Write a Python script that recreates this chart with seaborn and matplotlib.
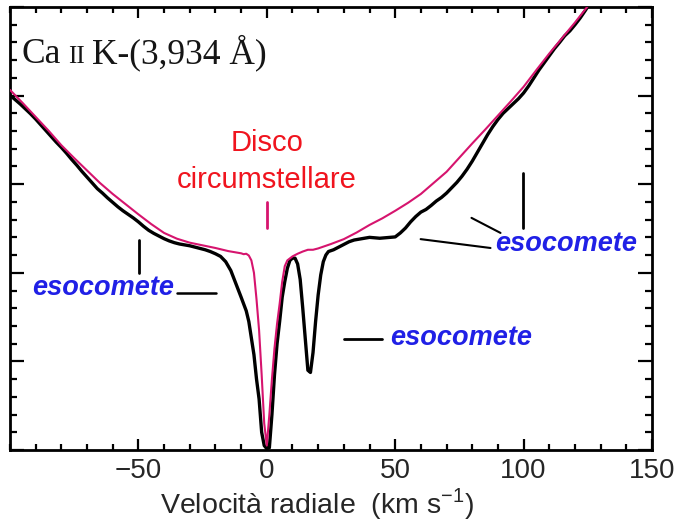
import numpy as np
import pandas as pd
import matplotlib
matplotlib.use("Agg")
import matplotlib.pyplot as plt
from matplotlib.ticker import MultipleLocator
from matplotlib.transforms import offset_copy
import seaborn as sns

# Observed Ca II K profile (black) and circumstellar-disc reference profile (magenta)
v_obs = [-100, -98, -96, -94, -92, -90, -88, -86, -84, -82, -80, -78, -76, -74, -72,
         -70, -68, -66, -64, -62, -60, -58, -56, -54, -52, -50, -48, -46, -44, -42,
         -40, -38, -36, -34, -32, -30, -28, -26, -24, -22, -20, -18, -16, -14, -12,
         -10, -8, -7, -6, -5, -4, -3, -2, -1, 0, 1, 2, 3, 4, 5, 6, 7, 8, 9, 10, 11,
         12, 13, 14, 15, 16, 17, 18, 19, 20, 21, 22, 23, 24, 26, 28, 30, 32, 34, 36,
         38, 40, 42, 44, 46, 48, 50, 52, 54, 56, 58, 60, 62, 64, 66, 68, 70, 72, 74,
         76, 78, 80, 82, 84, 86, 88, 90, 92, 94, 96, 98, 100, 102, 104, 106, 108, 110,
         112, 114, 116, 118, 120, 122, 124, 126, 128]
f_obs = [0.801, 0.791, 0.781, 0.770, 0.759, 0.747, 0.734, 0.721, 0.708, 0.695, 0.683,
         0.670, 0.656, 0.643, 0.629, 0.616, 0.603, 0.590, 0.580, 0.569, 0.559, 0.549,
         0.540, 0.532, 0.524, 0.515, 0.505, 0.496, 0.489, 0.483, 0.477, 0.472, 0.468,
         0.465, 0.463, 0.461, 0.458, 0.455, 0.452, 0.448, 0.443, 0.437, 0.425, 0.405,
         0.375, 0.345, 0.314, 0.290, 0.252, 0.215, 0.160, 0.115, 0.040, 0.010, 0.003,
         0.005, 0.080, 0.170, 0.240, 0.290, 0.345, 0.380, 0.410, 0.428, 0.433, 0.433,
         0.420, 0.385, 0.320, 0.250, 0.180, 0.175, 0.220, 0.290, 0.350, 0.395, 0.425,
         0.440, 0.448, 0.452, 0.458, 0.464, 0.470, 0.474, 0.476, 0.478, 0.480, 0.479,
         0.478, 0.479, 0.480, 0.481, 0.490, 0.501, 0.515, 0.527, 0.537, 0.543, 0.552,
         0.562, 0.570, 0.580, 0.592, 0.604, 0.618, 0.634, 0.652, 0.672, 0.692, 0.712,
         0.730, 0.746, 0.760, 0.771, 0.782, 0.793, 0.806, 0.822, 0.840, 0.858, 0.874,
         0.890, 0.906, 0.920, 0.935, 0.946, 0.960, 0.975, 0.992, 1.010, 1.030]

v_disk = [-100, -95, -90, -85, -80, -75, -70, -65, -60, -55, -50, -45, -40, -35, -30,
          -25, -20, -15, -12, -10, -9, -8, -7, -6, -5, -4, -3, -2, -1, 0, 1, 2, 3, 4,
          5, 6, 7, 8, 10, 12, 14, 16, 18, 20, 25, 30, 35, 40, 45, 50, 55, 60, 65, 70,
          75, 80, 85, 90, 95, 100, 105, 110, 115, 120, 125, 128]
f_disk = [0.813, 0.783, 0.752, 0.721, 0.688, 0.659, 0.631, 0.603, 0.578, 0.555, 0.532,
          0.510, 0.490, 0.477, 0.468, 0.462, 0.456, 0.449, 0.446, 0.444, 0.442, 0.443,
          0.439, 0.428, 0.400, 0.340, 0.270, 0.170, 0.060, 0.010, 0.080, 0.160, 0.230,
          0.285, 0.330, 0.380, 0.415, 0.428, 0.437, 0.443, 0.448, 0.452, 0.452, 0.455,
          0.465, 0.476, 0.491, 0.508, 0.523, 0.540, 0.558, 0.578, 0.603, 0.628, 0.660,
          0.692, 0.723, 0.755, 0.787, 0.820, 0.858, 0.895, 0.930, 0.965, 1.002, 1.020]

x_ticks = [-50, 0, 50, 100, 150]
x_tick_labels = ["\u221250", "0", "50", "100", "150"]

sns.set_style("ticks")
plt.rcParams["font.family"] = ["Liberation Sans", "DejaVu Sans"]
plt.rcParams["mathtext.fontset"] = "custom"
plt.rcParams["mathtext.rm"] = "Liberation Sans"

MAGENTA = "#D6146E"
BLUE = "#2020E6"
RED = "#F0141E"

fig = plt.figure(figsize=(6.78, 5.23), dpi=100)
ax = fig.add_axes([0.0147, 0.1396, 0.947, 0.847])

obs = pd.DataFrame({"v": v_obs, "flux": f_obs})
disk = pd.DataFrame({"v": v_disk, "flux": f_disk})

sns.lineplot(data=obs, x="v", y="flux", ax=ax, color="black", lw=2.4,
             estimator=None, zorder=2)
sns.lineplot(data=disk, x="v", y="flux", ax=ax, color=MAGENTA, lw=1.5,
             estimator=None, zorder=3)

ax.set_xlim(-100, 150)
ax.set_ylim(0, 1)
ax.set_xticks(x_ticks)
ax.set_xticklabels(x_tick_labels, fontsize=20)
ax.xaxis.set_minor_locator(MultipleLocator(10))
ax.yaxis.set_major_locator(MultipleLocator(0.2))
ax.yaxis.set_minor_locator(MultipleLocator(0.04))
ax.set_yticklabels([])
ax.set_ylabel("")
ax.set_xlabel("Velocità radiale  (km s$^{\u2212\\mathregular{1}}$)", fontsize=20.5,
              labelpad=1, x=0.478)

ax.tick_params(axis="both", which="both", direction="in", top=True, right=True,
               color="black", width=1.6)
ax.tick_params(axis="x", which="major", length=8, pad=6)
ax.tick_params(axis="x", which="minor", length=4)
ax.tick_params(axis="y", which="major", length=10)
ax.tick_params(axis="y", which="minor", length=5)
for sp in ax.spines.values():
    sp.set_linewidth(2.0)
    sp.set_color("black")

# Line identification: "Ca II K-(3,934 Å)" with small-caps ionisation stage
fig.canvas.draw()
renderer = fig.canvas.get_renderer()
serif = "Liberation Serif"
t_ca = ax.text(-95.6, 0.874, "Ca", fontsize=25.5, family=serif, va="baseline",
               color="#151515")
w = t_ca.get_window_extent(renderer).width
t_ion = ax.text(-95.6, 0.874, "II", fontsize=18, family=serif, va="baseline",
                color="#151515",
                transform=offset_copy(ax.transData, fig=fig, x=w + 7, units="dots"))
w2 = t_ion.get_window_extent(renderer).width
ax.text(-95.6, 0.874, "K-(3,934 Å)", fontsize=25.5, family=serif, va="baseline",
        color="#151515",
        transform=offset_copy(ax.transData, fig=fig, x=w + 7 + w2 + 8, units="dots"))

# Circumstellar disc component
ax.text(0, 0.693, "Disco", fontsize=21, color=RED, ha="center", va="center")
ax.text(0, 0.609, "circumstellare", fontsize=21, color=RED, ha="center",
        va="center")
ax.plot([0, 0], [0.500, 0.560], color=MAGENTA, lw=2)

# Exocomet components
comet_style = dict(fontsize=19.5, color=BLUE, fontweight="bold", fontstyle="italic",
                   va="center")
ax.text(-91.4, 0.365, "esocomete", ha="left", **comet_style)
ax.plot([-49.8, -49.8], [0.400, 0.474], color="black", lw=2)
ax.plot([-35.0, -19.8], [0.355, 0.355], color="black", lw=1.8)

ax.text(89.1, 0.465, "esocomete", ha="left", **comet_style)
ax.plot([99.6, 99.6], [0.501, 0.625], color="black", lw=2)
ax.plot([79.7, 91.0], [0.524, 0.490], color="black", lw=1.5)
ax.plot([59.9, 87.1], [0.476, 0.456], color="black", lw=1.5)

ax.text(48.2, 0.252, "esocomete", ha="left", **comet_style)
ax.plot([29.9, 44.7], [0.250, 0.250], color="black", lw=2)

fig.savefig("out.png", dpi=100)
